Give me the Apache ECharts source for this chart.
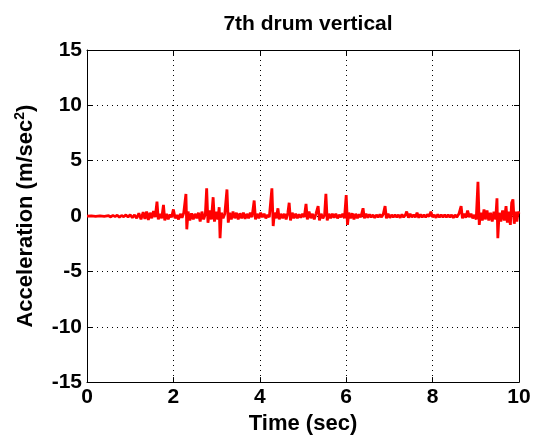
<!DOCTYPE html>
<html>
<head>
<meta charset="utf-8">
<script src="https://cdn.jsdelivr.net/npm/echarts@6/dist/echarts.min.js"></script>
<style>html,body{margin:0;padding:0;background:#fff;}#c{width:535px;height:440px;}</style>
</head>
<body>
<div id="c"></div>
<script>
const title = '7th drum vertical';
const xTicks = [0, 2, 4, 6, 8, 10];
const yTicks = [-15, -10, -5, 0, 5, 10, 15];
const times = [
0.00,0.10,0.20,0.30,0.40,0.50,0.55,0.60,0.65,0.70,0.75,0.80,0.85,0.90,0.95,1.00,1.05,1.10,1.15,1.20,
1.25,1.30,1.34,1.38,1.42,1.46,1.50,1.54,1.58,1.62,1.65,1.69,1.73,1.77,1.80,1.84,1.88,1.92,1.96,2.00,
2.04,2.08,2.12,2.16,2.20,2.24,2.29,2.31,2.34,2.38,2.42,2.46,2.50,2.54,2.58,2.62,2.66,2.70,2.74,2.77,
2.80,2.84,2.88,2.92,2.95,2.99,3.03,3.06,3.08,3.11,3.15,3.19,3.24,3.27,3.30,3.34,3.38,3.42,3.46,3.50,
3.54,3.58,3.62,3.66,3.70,3.74,3.78,3.82,3.87,3.90,3.94,3.98,4.02,4.06,4.10,4.14,4.18,4.22,4.28,4.31,
4.34,4.38,4.42,4.45,4.49,4.53,4.57,4.61,4.65,4.68,4.71,4.75,4.79,4.83,4.87,4.91,4.95,4.99,5.03,5.07,
5.10,5.14,5.18,5.22,5.26,5.30,5.35,5.38,5.42,5.46,5.50,5.53,5.56,5.60,5.64,5.68,5.72,5.76,5.80,5.84,
5.88,5.92,5.96,6.00,6.03,6.06,6.10,6.14,6.18,6.22,6.26,6.30,6.34,6.39,6.42,6.46,6.50,6.54,6.58,6.62,
6.66,6.70,6.74,6.78,6.82,6.86,6.90,6.93,6.97,7.01,7.05,7.09,7.13,7.17,7.21,7.25,7.29,7.33,7.37,7.40,
7.44,7.48,7.52,7.56,7.60,7.64,7.68,7.72,7.76,7.80,7.84,7.88,7.92,7.96,8.00,8.04,8.08,8.12,8.16,8.20,
8.24,8.28,8.32,8.36,8.40,8.44,8.48,8.52,8.56,8.61,8.66,8.69,8.73,8.77,8.81,8.85,8.89,8.93,8.97,9.01,
9.05,9.08,9.11,9.15,9.19,9.22,9.26,9.30,9.34,9.38,9.42,9.46,9.49,9.51,9.54,9.58,9.62,9.66,9.70,9.73,
9.76,9.80,9.83,9.86,9.89,9.92,9.95,9.98,10.00
];
const accel = [
0,0.02,-0.02,0.01,-0.03,0.03,-0.08,0.06,-0.05,0.08,-0.1,0.05,-0.06,0.1,-0.08,0.12,-0.15,0.1,-0.2,0.25,
-0.3,0.35,-0.25,0.4,-0.35,0.3,-0.2,0.45,-0.1,1.3,-0.3,0.2,-0.2,1.0,-0.4,0.2,-0.3,0.15,-0.1,0.6,
-0.2,0.1,-0.3,0.2,-0.15,0.3,2.0,-1.2,0.4,-0.4,0.25,-0.3,0.2,-0.2,0.3,-0.5,0.4,-0.3,0.2,2.5,
-0.6,0.5,-0.3,1.7,-0.5,0.4,-0.3,0.8,-2.0,0.3,-0.2,0.2,2.4,-0.6,0.3,-0.3,0.4,-0.2,0.3,-0.3,
0.25,-0.2,0.3,-0.25,0.2,-0.2,0.3,-0.1,1.4,-0.3,0.2,-0.2,0.3,-0.1,0.2,-0.2,0.1,-0.1,2.5,-0.9,
0.3,-0.2,0.7,-0.3,0.2,-0.2,0.2,-0.3,0.3,1.2,-0.4,0.3,-0.2,0.2,-0.2,0.15,-0.15,0.2,-0.1,1.1,
-0.3,0.4,-0.2,0.2,-0.3,0.2,0.9,-0.4,0.2,-0.2,0.1,2.0,-0.4,0.2,-0.2,0.2,-0.15,0.2,-0.2,0.1,
-0.1,0.2,-0.2,1.9,-0.8,0.3,-0.2,0.25,-0.3,0.2,-0.2,0.15,-0.1,0.7,-0.2,0.2,-0.15,0.15,-0.1,0.1,
-0.15,0.1,-0.1,0.15,-0.1,0.2,0.9,-0.2,0.2,-0.15,0.1,-0.1,0.1,-0.1,0.1,-0.15,0.15,-0.1,0.1,0.4,
-0.15,0.2,-0.1,0.1,-0.1,0.3,-0.15,0.15,-0.1,0.1,-0.1,0.15,-0.05,0.4,-0.1,0.1,-0.15,0.15,-0.1,0.1,
-0.1,0.1,-0.1,0.1,-0.1,0.1,-0.15,0.1,-0.1,0.2,0.9,-0.2,0.2,-0.15,0.5,-0.1,0.2,-0.2,0.1,-0.3,
3.1,-0.8,0.3,-0.4,0.6,-0.3,0.5,-0.4,0.3,-0.5,0.4,-0.3,1.6,-2.0,0.3,-0.5,0.5,-0.4,0.9,-0.6,
0.4,-0.8,1.2,1.5,-0.7,0.4,-0.5,0.4,0.2
];
const seriesData = times.map((t, i) => [t, accel[i]]);
const FONT = '"Liberation Sans", Arial, sans-serif';
const chart = echarts.init(document.getElementById('c'), null, {renderer: 'canvas'});
const baseAxis = {
  axisLine: {show: true, onZero: false, lineStyle: {color: '#000', width: 1}},
  axisTick: {show: true, inside: true, length: 5, lineStyle: {color: '#000'}},
  splitLine: {show: false}
};
chart.setOption({
  animation: false,
  backgroundColor: '#fff',
  title: {
    text: title, left: 303, top: 9, textAlign: 'center',
    textStyle: {fontFamily: FONT, fontWeight: 'bold', fontSize: 21, color: '#000'}
  },
  grid: {left: 87, right: 16, top: 50, bottom: 56, containLabel: false},
  xAxis: [
    Object.assign({}, baseAxis, {
      type: 'value', min: xTicks[0], max: xTicks[xTicks.length - 1], interval: 2, position: 'bottom',
      name: 'Time (sec)', nameLocation: 'middle', nameGap: 27,
      nameTextStyle: {fontFamily: FONT, fontWeight: 'bold', fontSize: 22, color: '#000'},
      axisLabel: {fontFamily: FONT, fontWeight: 'bold', fontSize: 21, color: '#000', margin: 5},
      splitLine: {show: true, lineStyle: {type: [1, 4], color: '#000', width: 1}}
    }),
    Object.assign({}, baseAxis, {
      type: 'value', min: xTicks[0], max: xTicks[xTicks.length - 1], interval: 2, position: 'top',
      axisLabel: {show: false}
    })
  ],
  yAxis: [
    Object.assign({}, baseAxis, {
      type: 'value', min: yTicks[0], max: yTicks[yTicks.length - 1], interval: 5, position: 'left',
      name: '{a|Acceleration (m/sec}{b|2}{a|)}', nameLocation: 'middle', nameGap: 49, nameRotate: 90,
      nameTextStyle: {
        rich: {
          a: {fontFamily: FONT, fontWeight: 'bold', fontSize: 22, color: '#000'},
          b: {fontFamily: FONT, fontWeight: 'bold', fontSize: 14, color: '#000', padding: [0, 0, 11, 0]}
        }
      },
      axisLabel: {fontFamily: FONT, fontWeight: 'bold', fontSize: 21, color: '#000', margin: 5},
      splitLine: {show: true, lineStyle: {type: [1, 4], color: '#000', width: 1}}
    }),
    Object.assign({}, baseAxis, {
      type: 'value', min: yTicks[0], max: yTicks[yTicks.length - 1], interval: 5, position: 'right',
      axisLabel: {show: false}
    })
  ],
  series: [{
    type: 'line', data: seriesData, xAxisIndex: 0, yAxisIndex: 0,
    showSymbol: false, smooth: false,
    lineStyle: {color: '#ff0000', width: 2.8}, itemStyle: {color: '#ff0000'}
  }]
});
</script>
</body>
</html>
